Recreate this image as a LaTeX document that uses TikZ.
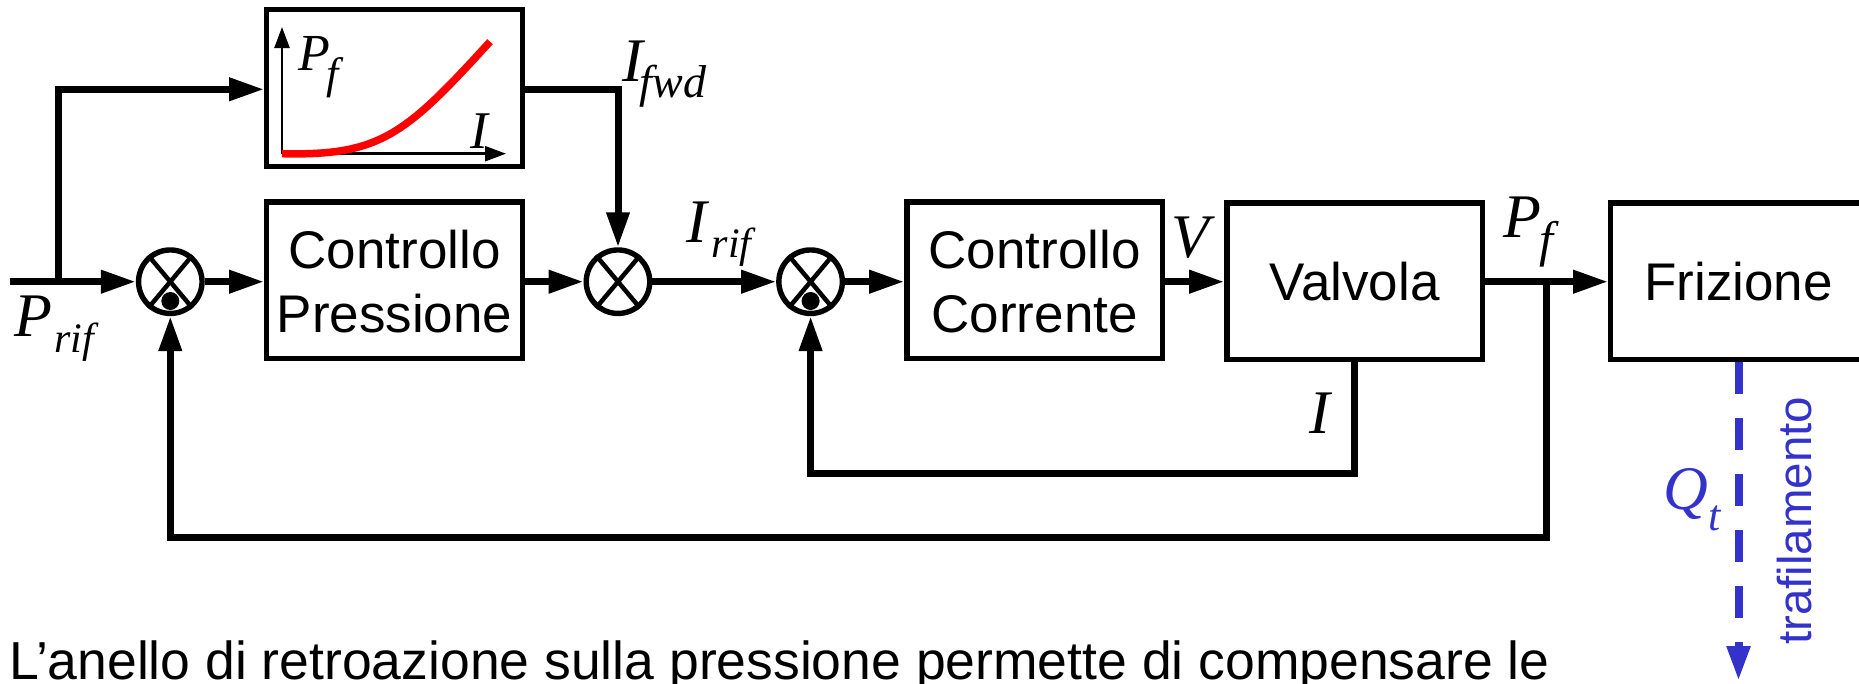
\documentclass[tikz,border=0pt]{standalone}
\usepackage{fontspec}
\setmainfont{Liberation Sans}
\newfontfamily\tms[ItalicFont=Liberation Serif Italic]{Liberation Serif}
\usetikzlibrary{arrows.meta,calc}
\definecolor{leakblue}{HTML}{3333CC}
\newcommand{\fsz}[1]{\fontsize{#1}{#1}\selectfont}
\newcommand{\mlab}[6]{% main, size, sub, subsize, dx, drop
  {\tms\itshape\fsz{#2}#1\kern0pt\hbox to 0pt{\kern#5pt\raisebox{-#6pt}{\fsz{#4}#3}\hss}}}
\tikzset{
  x=1pt,y=-1pt,
  blockbox/.style={draw,line width=5.4pt,minimum width=255.5pt,minimum height=156.5pt,inner sep=0pt,align=center,
    font=\fontsize{53}{64}\selectfont},
  sumnode/.style={draw,circle,line width=5.4pt,minimum size=63.5pt,inner sep=0pt},
  crossline/.style={line width=4.5pt},
  eyedot/.style={fill,circle,minimum size=18pt,inner sep=0pt},
  sig/.style={line width=7pt,-{Triangle[length=35pt,width=22pt]}},
  axisline/.style={line width=2.5pt,-{Triangle[length=21pt,width=15pt]}},
  mathlab/.style={inner sep=0pt,anchor=base west},
}
\begin{document}
\begin{tikzpicture}
\useasboundingbox (0,0) rectangle (1859,683);
\clip (0,0) rectangle (1859,683);
% blocks
\node[blockbox] (ff) at (394.5,88) {};
\node[blockbox] (cp) at (394.5,280.2) {\rule{0pt}{60pt}Controllo\\\strut Pressione};
\node[blockbox] (cc) at (1034.6,280.2) {\rule{0pt}{60pt}Controllo\\\strut Corrente};
\node[blockbox] (va) at (1354.6,281.2) {Valvola};
\node[blockbox] (fr) at (1738.5,281.2) {Frizione};
% summing junctions
\node[sumnode] (s1) at (170.3,281.7) {};
\node[sumnode] (s2) at (618,281.7) {};
\node[sumnode] (s3) at (810.6,281.7) {};
\foreach \s in {s1,s2,s3}{
  \draw[crossline] (\s.50) -- (\s.230);
  \draw[crossline] (\s.130) -- (\s.310);
}
\node[eyedot] (d1) at (170.3,301) {};
\node[eyedot] (d3) at (810.6,301) {};
% free ends and junctions
\coordinate (in) at (10,281.7);
\coordinate (b1) at (58.3,281.7);
\coordinate (b2) at (1546,281.7);
\coordinate (f2) at (1546,537.7);
\coordinate (i0) at (1354,361.7);
\coordinate (i1) at (1354,473.3);
\coordinate (leak) at (1738.5,681);
% main chain
\draw[sig] (in) -- (s1.west);
\draw[sig] (s1.east) -- (s1.east -| cp.west);
\draw[sig] (s2.west -| cp.east) -- (s2.west);
\draw[sig] (s2.east) -- (s3.west);
\draw[sig] (s3.east) -- (s3.east -| cc.west);
\draw[sig] (s3.east -| cc.east) -- (s3.east -| va.west);
\draw[sig] (s3.east -| va.east) -- (s3.east -| fr.west);
% feed-forward
\draw[sig] (b1) |- (ff.west |- 0,89.3);
\draw[sig] (ff.east |- 0,89.3) -| (s2.north);
% feedback
\draw[sig] (i0) -- (i1) -| (s3.south);
\draw[sig] (b2) -- (f2) -| (s1.south);
% leak
\draw[line width=8pt,leakblue,dash pattern=on 32pt off 24pt,-{Triangle[length=35pt,width=22pt]}] (fr.south) -- (leak);
% inset plot
\coordinate (o) at (282,153.7);
\coordinate (ax) at (506,153.7);
\coordinate (ay) at (282,27);
\coordinate (redend) at (490,41.7);
\draw[axisline] (o) -- (ay);
\draw[axisline] (o) -- (ax);
\draw[red,line width=7.5pt] (o) .. controls (380,156) and (405,135) .. (redend);
% labels
\node[mathlab] (lpf) at (298,70) {\mlab{P}{52}{f}{44}{-3}{18}};
\node[mathlab] (li) at (470,148) {\mlab{I}{53}{}{38}{0}{0}};
\node[mathlab] (lpr) at (14,336) {\mlab{P}{62}{rif}{42}{2}{16}};
\node[mathlab] (lif) at (622,81) {\mlab{I}{62}{fwd}{46}{-3}{16}};
\node[mathlab] (lir) at (686,242) {\mlab{I}{62}{rif}{42}{5}{15}};
\node[mathlab] (lv) at (1171,257) {\mlab{V}{62}{}{42}{0}{0}};
\node[mathlab] (lii) at (1309,433) {\mlab{I}{62}{}{42}{0}{0}};
\node[mathlab] (lpf2) at (1503,237) {\mlab{P}{62}{f}{50}{-2}{19}};
\node[mathlab,text=leakblue] (lq) at (1663,509) {\mlab{Q}{62}{t}{44}{0}{21}};
\node[inner sep=0pt,text=leakblue,rotate=90,anchor=base west,font=\fontsize{47.5}{50}\selectfont] (ltr) at (1811,645) {trafilamento};
\node[inner sep=0pt,anchor=base west,font=\fontsize{53.5}{64}\selectfont] (cap) at (9,679) {L’anello di retroazione sulla pressione permette di compensare le};
\end{tikzpicture}
\end{document}
